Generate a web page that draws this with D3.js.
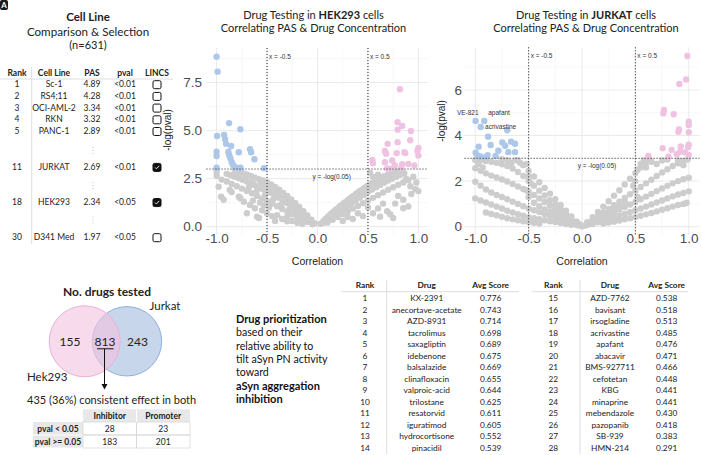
<!DOCTYPE html>
<html>
<head>
<meta charset="utf-8">
<script src="https://cdn.jsdelivr.net/npm/d3@7"></script>
<style>
	body { margin: 0; background: #fff; }
	svg { display: block; font-family: Lato, 'Open Sans', sans-serif; }
</style>
</head>
<body>
<svg id="fig" width="702" height="455"></svg>
<script>
// ---- cell line table ----
const cellRanks = [1, 2, 3, 4, 5, 11, 18, 30];
const cellLines = ['Sc-1', 'RS4;11', 'OCI-AML-2', 'RKN', 'PANC-1', 'JURKAT', 'HEK293', 'D341 Med'];
const cellPAS = ['4.89', '4.28', '3.34', '3.32', '2.89', '2.69', '2.34', '1.97'];
const cellPval = ['<0.01', '<0.01', '<0.01', '<0.01', '<0.01', '<0.01', '<0.05', '<0.05'];
const cellLincs = [false, false, false, false, false, true, true, false];

// ---- venn + consistency table ----
const vennCounts = { hek: 155, both: 813, jurkat: 243 };
const consistRows = ['pval < 0.05', 'pval >= 0.05'];
const consistCols = ['Inhibitor', 'Promoter'];
const consistValues = [[28, 23], [183, 201]];

// ---- drug prioritization ----
const drugNames = ['KX-2391', 'anecortave-acetate', 'AZD-8931', 'tacrolimus', 'saxagliptin', 'idebenone',
	'balsalazide', 'clinafloxacin', 'valproic-acid', 'trilostane', 'resatorvid', 'iguratimod',
	'hydrocortisone', 'pinacidil', 'AZD-7762', 'bavisant', 'irsogladine', 'acrivastine', 'apafant',
	'abacavir', 'BMS-927711', 'cefotetan', 'KBG', 'minaprine', 'mebendazole', 'pazopanib', 'SB-939', 'HMN-214'];
const drugScores = ['0.776', '0.743', '0.714', '0.698', '0.689', '0.675', '0.669', '0.655', '0.644', '0.625',
	'0.611', '0.605', '0.552', '0.539', '0.538', '0.518', '0.513', '0.485', '0.476', '0.471', '0.466',
	'0.448', '0.441', '0.441', '0.430', '0.418', '0.383', '0.291'];

// ---- HEK293 volcano: [correlation, -log(pval)] ----
const hekBlue = [[-1.00,8.85],[-0.99,8.07],[-0.876,5.39],[-0.764,5.07],[-0.995,4.72],[-0.926,4.78],[-0.916,4.55],
	[-0.906,4.31],[-0.856,4.20],[-0.78,3.87],[-0.668,4.03],[-0.658,3.87],[-0.625,3.51],[-1.00,3.90],[-1.00,3.68],
	[-0.883,3.90],[-0.876,3.73],[-0.863,3.56],[-0.85,3.35],[-0.837,3.21],[-0.817,3.11],[-0.764,3.07],[-1.00,3.07],[-0.53,3.04]];
const hekPink = [[0.817,7.15],[0.794,5.44],[0.84,5.24],[0.794,5.05],[0.926,4.98],[0.695,4.31],[0.794,4.40],[0.919,4.50],
	[1.00,4.10],[0.99,3.94],[1.00,3.70],[0.668,3.94],[0.68,3.80],[0.785,3.83],[0.86,3.87],[0.87,3.83],[0.74,3.44],
	[0.668,3.35],[0.84,3.25],[0.90,3.26],[0.96,3.18],[0.543,3.47],[0.55,3.30],[0.765,3.20],[0.83,3.07],[0.72,3.00],[0.69,3.03]];
const hekGrey = [
	[-0.82,2.92],[-0.78,2.85],[-0.74,2.78],[-0.70,2.72],[-0.66,2.64],[-0.62,2.55],[-0.58,2.47],[-0.54,2.40],[-0.50,2.32],
	[-0.46,2.20],[-0.42,2.07],[-0.38,1.93],[-0.34,1.76],[-0.30,1.60],[-0.26,1.42],[-0.22,1.22],[-0.18,1.02],[-0.14,0.80],
	[-0.10,0.58],[-0.06,0.36],[-0.03,0.18],
	[-0.90,2.75],[-0.86,2.68],[-0.82,2.60],[-0.78,2.52],[-0.74,2.44],[-0.70,2.35],[-0.66,2.26],[-0.62,2.16],[-0.58,2.06],
	[-0.54,1.96],[-0.50,1.86],[-0.46,1.75],[-0.42,1.63],[-0.38,1.50],[-0.34,1.37],[-0.30,1.22],[-0.26,1.07],[-0.22,0.91],
	[-0.18,0.75],[-0.14,0.58],[-0.10,0.41],[-0.06,0.25],
	[-0.95,2.45],[-0.90,2.35],[-0.85,2.22],[-0.80,2.10],[-0.75,1.98],[-0.70,1.86],[-0.65,1.74],[-0.60,1.60],[-0.55,1.47],
	[-0.50,1.34],[-0.45,1.20],[-0.40,1.06],[-0.35,0.92],[-0.30,0.78],[-0.25,0.64],[-0.20,0.50],[-0.15,0.37],[-0.10,0.24],[-0.05,0.12],
	[-0.80,2.75],[-0.72,2.50],[-0.64,2.45],[-0.56,2.25],[-0.52,2.15],[-0.48,2.05],[-0.44,1.90],[-0.40,1.80],[-0.36,1.62],
	[-0.32,1.45],[-0.28,1.30],[-0.24,1.12],[-0.20,0.92],[-0.16,0.74],[-0.12,0.55],[-0.08,0.36],[-0.68,2.05],[-0.60,1.90],
	[-0.52,1.65],[-0.44,1.42],[-0.36,1.15],[-0.28,0.90],[-0.20,0.65],[-0.12,0.40],
	[-1.00,2.85],[-1.00,2.65],[-0.98,2.08],[-0.955,1.56],[-0.93,1.40],[-0.87,1.91],[-0.85,1.80],[-0.78,1.56],[-0.765,1.48],
	[-0.73,1.30],[-0.70,0.70],[-0.67,1.13],[-0.62,0.96],[-0.60,0.52],[-0.58,0.45],[-0.55,0.85],[-0.50,0.70],[-0.48,1.00],
	[-0.45,0.55],[-0.40,0.60],[-0.42,0.30],[-0.35,0.40],[-0.30,0.50],[-0.30,0.28],[-0.25,0.30],[-0.20,0.20],[-0.15,0.15],
	[-0.53,1.10],[-0.64,1.35],[-0.57,1.25],
	[0.03,0.15],[0.06,0.30],[0.10,0.50],[0.14,0.70],[0.18,0.88],[0.22,1.05],[0.26,1.22],[0.30,1.38],[0.34,1.54],[0.38,1.70],
	[0.42,1.86],[0.46,2.00],[0.50,2.14],[0.54,2.28],[0.58,2.40],[0.62,2.52],[0.66,2.62],[0.70,2.72],[0.74,2.80],[0.78,2.88],[0.82,2.95],
	[0.06,0.20],[0.10,0.35],[0.14,0.50],[0.18,0.66],[0.22,0.80],[0.26,0.95],[0.30,1.10],[0.34,1.24],[0.38,1.38],[0.42,1.52],
	[0.46,1.66],[0.50,1.80],[0.54,1.93],[0.58,2.05],[0.62,2.17],[0.66,2.28],[0.70,2.40],[0.74,2.50],[0.78,2.60],[0.82,2.70],[0.86,2.78],
	[0.10,0.22],[0.15,0.36],[0.20,0.50],[0.25,0.65],[0.30,0.80],[0.35,0.94],[0.40,1.08],[0.45,1.22],[0.50,1.36],[0.55,1.50],
	[0.60,1.64],[0.65,1.78],[0.70,1.92],[0.75,2.05],[0.80,2.18],[0.85,2.30],[0.90,2.42],
	[0.08,0.40],[0.12,0.60],[0.16,0.78],[0.20,0.95],[0.24,1.12],[0.28,1.28],[0.32,1.45],[0.36,1.60],[0.40,1.75],[0.44,1.90],
	[0.48,2.05],[0.52,2.20],[0.56,2.32],[0.64,2.40],[0.72,2.60],
	[0.98,2.30],[1.00,1.85],[0.97,1.95],[0.93,1.70],[0.85,1.40],[0.77,1.20],[0.85,0.96],[0.69,0.80],[0.62,0.52],[0.72,0.65],
	[0.90,1.05],[0.80,1.60],[0.75,0.45],[0.60,0.95],[0.55,0.70],[0.50,1.00],[0.45,0.55],[0.40,0.70],[0.35,0.40],[0.30,0.50],
	[0.25,0.30],[0.95,2.60],[0.88,2.50],[0.60,2.70],[0.55,2.60],[0.52,2.80],[0.92,2.10],[0.65,1.20]
];

// ---- JURKAT volcano ----
const jurBlue = [[-0.997,4.64],[-0.916,4.64],[-0.95,4.37],[-0.88,3.95],[-0.70,4.23],[-0.968,3.51],[-0.856,3.58],
	[-0.747,3.70],[-0.72,3.55],[-0.784,3.33],[-0.665,3.73],[-0.628,3.64],[-0.997,3.24],[-0.98,3.13],[-0.884,3.14],
	[-0.81,3.10],[-0.69,3.27],[-0.628,3.27],[-0.90,3.05],[-0.95,3.08]];
const jurBlueNames = ['VE-821', 'apafant', 'acrivastine'];
const jurPink = [[0.987,7.49],[0.975,6.46],[0.912,6.26],[0.768,5.12],[0.762,4.97],[0.859,4.93],[1.00,4.61],[1.00,4.46],
	[0.909,4.27],[0.903,4.17],[1.00,4.14],[0.756,3.44],[0.84,3.37],[0.925,3.52],[1.00,3.60],[0.995,3.50],[0.92,3.29],
	[0.888,3.18],[0.621,3.10],[0.81,3.07],[0.965,3.26],[1.00,3.15]];
const jurGrey = [
	[-0.05,0.22],[-0.10,0.45],[-0.15,0.70],[-0.20,0.95],[-0.25,1.20],[-0.30,1.45],[-0.35,1.70],[-0.40,1.95],[-0.45,2.20],
	[-0.50,2.45],[-0.55,2.70],[-0.60,2.90],
	[-0.05,0.18],[-0.10,0.37],[-0.15,0.56],[-0.20,0.76],[-0.25,0.96],[-0.30,1.16],[-0.35,1.37],[-0.40,1.58],[-0.45,1.80],
	[-0.50,2.02],[-0.55,2.22],[-0.60,2.40],[-0.65,2.55],[-0.70,2.66],[-0.75,2.74],[-0.80,2.80],[-0.85,2.85],[-0.90,2.88],
	[-0.95,2.91],[-1.00,2.93],
	[-0.05,0.15],[-0.10,0.30],[-0.15,0.45],[-0.20,0.60],[-0.25,0.76],[-0.30,0.92],[-0.35,1.08],[-0.40,1.24],[-0.45,1.39],
	[-0.50,1.54],[-0.55,1.65],[-0.60,1.76],[-0.65,1.87],[-0.70,1.98],[-0.75,2.07],[-0.80,2.16],[-0.85,2.24],[-0.90,2.34],
	[-0.95,2.45],[-1.00,2.56],
	[-0.05,0.08],[-0.10,0.16],[-0.15,0.24],[-0.20,0.32],[-0.25,0.40],[-0.30,0.48],[-0.35,0.56],[-0.40,0.64],[-0.45,0.72],
	[-0.50,0.80],[-0.55,0.90],[-0.60,1.00],[-0.65,1.10],[-0.70,1.20],[-0.75,1.30],[-0.80,1.39],[-0.85,1.50],[-0.90,1.63],
	[-0.95,1.80],[-1.00,1.97],
	[-0.10,0.08],[-0.15,0.12],[-0.20,0.16],[-0.25,0.20],[-0.30,0.24],[-0.35,0.28],[-0.40,0.33],[-0.45,0.37],[-0.50,0.42],
	[-0.55,0.48],[-0.60,0.55],[-0.65,0.62],[-0.70,0.70],[-0.75,0.80],[-0.80,0.88],[-0.85,0.97],[-0.90,1.06],[-0.95,1.15],[-1.00,1.24],
	[-0.40,0.14],[-0.45,0.17],[-0.50,0.20],[-0.55,0.24],[-0.60,0.28],[-0.65,0.32],[-0.70,0.37],[-0.75,0.43],[-0.80,0.50],
	[-0.85,0.56],[-0.90,0.62],
	[-0.52,2.75],[-0.58,2.80],[-0.62,2.92],[-0.66,2.82],[-0.70,2.92],[-0.75,2.96],[-0.68,2.70],[-0.50,2.20],[-0.48,1.90],
	[-0.50,1.30],[-0.52,1.60],[-0.45,1.05],[-0.40,0.90],[-0.35,0.75],[-0.30,0.65],[-0.25,0.55],[-0.20,0.45],[-0.15,0.32],
	[-0.10,0.22],[-0.05,0.10],[-0.03,0.05],[-0.02,0.10],[0.00,0.02],[-0.97,2.75],[-0.93,2.60],
	[0.05,0.20],[0.10,0.42],[0.15,0.65],[0.20,0.88],[0.25,1.12],[0.30,1.36],[0.35,1.60],[0.40,1.85],[0.45,2.10],[0.50,2.35],
	[0.55,2.60],[0.60,2.82],[0.63,2.95],
	[0.05,0.15],[0.10,0.30],[0.15,0.46],[0.20,0.62],[0.25,0.78],[0.30,0.94],[0.35,1.10],[0.40,1.26],[0.45,1.42],[0.50,1.58],
	[0.55,1.74],[0.60,1.90],[0.65,2.06],[0.70,2.22],[0.75,2.38],[0.80,2.52],[0.85,2.66],[0.90,2.78],[0.95,2.88],[0.99,2.95],
	[0.05,0.10],[0.10,0.20],[0.15,0.31],[0.20,0.42],[0.25,0.53],[0.30,0.64],[0.35,0.75],[0.40,0.86],[0.45,0.97],[0.50,1.08],
	[0.55,1.20],[0.60,1.32],[0.65,1.44],[0.70,1.56],[0.75,1.68],[0.80,1.79],[0.85,1.90],[0.90,2.00],[0.95,2.08],[1.00,2.15],
	[0.10,0.12],[0.15,0.19],[0.20,0.26],[0.25,0.33],[0.30,0.40],[0.35,0.48],[0.40,0.56],[0.45,0.64],[0.50,0.72],[0.55,0.80],
	[0.60,0.88],[0.65,0.97],[0.70,1.06],[0.75,1.15],[0.80,1.24],[0.85,1.33],[0.90,1.41],[0.95,1.48],[1.00,1.55],
	[0.20,0.14],[0.25,0.18],[0.30,0.22],[0.35,0.27],[0.40,0.32],[0.45,0.37],[0.50,0.42],[0.55,0.48],[0.60,0.54],[0.65,0.60],
	[0.70,0.67],[0.75,0.74],[0.80,0.81],[0.85,0.88],[0.90,0.95],[0.95,1.00],[0.98,1.05],
	[0.55,2.75],[0.60,2.60],[0.65,2.85],[0.70,2.75],[0.75,2.90],[0.80,2.95],[0.58,2.90],[0.52,2.50],[0.50,2.00],[0.48,1.80],
	[0.52,1.30],[0.40,1.10],[0.35,0.90],[0.30,0.80],[0.25,0.60],[0.20,0.50],[0.15,0.40],[0.10,0.25],[0.05,0.08],[0.03,0.05],
	[0.90,2.90],[0.95,2.70]
];

const svg = d3.select('#fig');

// ---------- panel badge ----------
svg.append('rect').attr('x', 0).attr('y', 0).attr('width', 8).attr('height', 10).attr('rx', 2).attr('fill', '#1a1a1a');
svg.append('text').attr('x', 4).attr('y', 8).attr('text-anchor', 'middle').attr('font-size', 8)
	.attr('font-weight', 700).attr('fill', '#fff').text('A');

// ---------- cell line table ----------
function drawCellTable() {
	const g = svg.append('g').attr('font-size', 8.5).attr('fill', '#222');
	const titles = [['Cell Line', 20.7, 700, 11.5], ['Comparison & Selection', 35.5, 400, 11.6], ['(n=631)', 48.5, 400, 11]];
	titles.forEach(([t, y, w, fs]) => {
		g.append('text').attr('x', 88).attr('y', y).attr('text-anchor', 'middle')
			.attr('font-size', fs).attr('font-weight', w).text(t);
	});

	const colX = [17, 54, 92, 125, 157];
	const heads = ['Rank', 'Cell Line', 'PAS', 'pval', 'LINCS'];
	g.selectAll('.hd').data(heads).join('text')
		.attr('x', (d, i) => colX[i]).attr('y', 76).attr('text-anchor', 'middle')
		.attr('font-weight', 700).text((d) => d);

	g.append('line').attr('x1', 0).attr('x2', 173).attr('y1', 79).attr('y2', 79).attr('stroke', '#ddd');
	g.append('line').attr('x1', 31.7).attr('x2', 31.7).attr('y1', 67).attr('y2', 244).attr('stroke', '#ddd');

	const rowY = (i) => (i < 5 ? 87.3 + i * 11.7 : 170 + (i - 5) * 35.15);
	const rows = g.selectAll('.row').data(cellRanks).join('g').attr('transform', (d, i) => `translate(0,${rowY(i)})`);
	rows.append('text').attr('x', colX[0]).attr('text-anchor', 'middle').text((d) => d);
	rows.append('text').attr('x', colX[1]).attr('text-anchor', 'middle').text((d, i) => cellLines[i]);
	rows.append('text').attr('x', colX[2]).attr('text-anchor', 'middle').text((d, i) => cellPAS[i]);
	rows.append('text').attr('x', colX[3]).attr('text-anchor', 'middle').text((d, i) => cellPval[i]);
	rows.append('rect').attr('x', colX[4] - 4).attr('y', -6.6).attr('width', 8).attr('height', 8).attr('rx', 1.5)
		.attr('fill', (d, i) => (cellLincs[i] ? '#111' : '#fff')).attr('stroke', '#111').attr('stroke-width', 1);
	rows.filter((d, i) => cellLincs[i]).append('path')
		.attr('d', `M${colX[4] - 2},-2.6 L${colX[4] - 0.6},-1.2 L${colX[4] + 2.2},-4.2`)
		.attr('fill', 'none').attr('stroke', '#fff').attr('stroke-width', 0.9);

	// vertical ellipsis between gaps
	[150.5, 185.5, 220].forEach((cy) => {
		[-3, 0, 3].forEach((o) => {
			g.append('circle').attr('cx', 93).attr('cy', cy + o).attr('r', 0.6).attr('fill', '#bbb');
		});
	});
}
drawCellTable();

// ---------- volcano plots ----------
function drawVolcano(cfg) {
	const g = svg.append('g');
	const x = d3.scaleLinear().domain([-1.1, 1.1]).range(cfg.xRange);
	const y = d3.scaleLinear().domain(cfg.yDomain).range(cfg.yRange);
	const [left, right] = cfg.xRange;
	const [bottom, top] = cfg.yRange;

	// grid
	const grid = g.append('g');
	grid.selectAll('.xm').data([-0.75, -0.25, 0.25, 0.75]).join('line')
		.attr('x1', x).attr('x2', x).attr('y1', top).attr('y2', bottom).attr('stroke', '#f3f3f3').attr('stroke-width', 0.6);
	grid.selectAll('.ym').data(cfg.yMinor).join('line')
		.attr('x1', left).attr('x2', right).attr('y1', y).attr('y2', y).attr('stroke', '#f3f3f3').attr('stroke-width', 0.6);
	grid.selectAll('.xM').data([-1, -0.5, 0, 0.5, 1]).join('line')
		.attr('x1', x).attr('x2', x).attr('y1', top).attr('y2', bottom).attr('stroke', '#e8e8e8').attr('stroke-width', 0.9);
	grid.selectAll('.yM').data(cfg.yTicks).join('line')
		.attr('x1', left).attr('x2', right).attr('y1', y).attr('y2', y).attr('stroke', '#e8e8e8').attr('stroke-width', 0.9);

	// points
	const pts = g.append('g');
	const drawPts = (data, color) => {
		pts.append('g').selectAll('circle').data(data).join('circle')
			.attr('cx', (d) => x(d[0])).attr('cy', (d) => y(d[1])).attr('r', 3.2).attr('fill', color);
	};
	drawPts(cfg.grey, '#cdcdcd');
	drawPts(cfg.blue, '#adc7e9');
	drawPts(cfg.pink, '#f0c2e2');

	// reference lines
	const dots = g.append('g').attr('stroke', '#222').attr('stroke-width', 1).attr('stroke-dasharray', '1,2');
	[-0.5, 0.5].forEach((v) => {
		dots.append('line').attr('x1', x(v)).attr('x2', x(v)).attr('y1', top).attr('y2', bottom);
	});
	dots.append('line').attr('x1', left).attr('x2', right).attr('y1', y(3)).attr('y2', y(3));

	const ann = g.append('g').attr('font-size', 6.5).attr('fill', '#333').attr('font-family', 'Liberation Sans, Arial, sans-serif');
	ann.append('text').attr('x', x(-0.5) + 2).attr('y', top + 11).text('x = -0.5');
	ann.append('text').attr('x', x(0.5) + 2).attr('y', top + 11).text('x = 0.5');
	ann.append('text').attr('x', x(0.14)).attr('y', y(3) + 9.5).attr('text-anchor', 'middle').text('y = -log(0.05)');

	// axes
	const fmt = (d) => d.toFixed(cfg.yDigits);
	g.append('g').attr('transform', `translate(0,${cfg.xLabelY})`)
		.call(d3.axisBottom(x).tickValues([-1, -0.5, 0, 0.5, 1]).tickFormat((d) => d.toFixed(1)).tickSize(0).tickPadding(0))
		.call((a) => a.select('.domain').remove())
		.selectAll('text').attr('font-size', 13.5).attr('fill', '#4d4d4d').attr('font-family', 'Liberation Sans, Arial, sans-serif');
	g.append('g').attr('transform', `translate(${cfg.yLabelX},0)`)
		.call(d3.axisLeft(y).tickValues(cfg.yTicks).tickFormat(fmt).tickSize(0).tickPadding(0))
		.call((a) => a.select('.domain').remove())
		.selectAll('text').attr('font-size', 13.5).attr('fill', '#4d4d4d').attr('font-family', 'Liberation Sans, Arial, sans-serif');

	g.append('text').attr('x', x(0)).attr('y', 265).attr('text-anchor', 'middle').attr('font-size', 10.5)
		.attr('fill', '#222').attr('font-family', 'Liberation Sans, Arial, sans-serif').text('Correlation');
	g.append('text').attr('transform', `translate(${cfg.yTitleX},${cfg.yTitleY}) rotate(-90)`)
		.attr('text-anchor', 'middle').attr('dy', '0.35em').attr('font-size', 10).attr('fill', '#222')
		.attr('font-family', 'Liberation Sans, Arial, sans-serif').text('-log(pval)');

	// title
	const t1 = g.append('text').attr('x', cfg.titleX).attr('y', 19).attr('text-anchor', 'middle').attr('font-size', 11).attr('fill', '#222');
	t1.append('tspan').text('Drug Testing in ');
	t1.append('tspan').attr('font-weight', 700).text(cfg.cell);
	t1.append('tspan').text(' cells');
	g.append('text').attr('x', cfg.titleX).attr('y', 32).attr('text-anchor', 'middle').attr('font-size', 11)
		.attr('fill', '#222').text('Correlating PAS & Drug Concentration');

	return { g, x, y };
}

drawVolcano({
	cell: 'HEK293', xRange: [206.5, 428.5], yDomain: [-0.45, 9.3], yRange: [235.3, 48],
	yTicks: [0, 2.5, 5, 7.5], yMinor: [1.25, 3.75, 6.25, 8.75], yDigits: 1,
	grey: hekGrey, blue: hekBlue, pink: hekPink,
	xLabelY: 233, yLabelX: 202, yTitleX: 167, yTitleY: 130, titleX: 313.5
});

const jur = drawVolcano({
	cell: 'JURKAT', xRange: [464.6, 699.4], yDomain: [-0.37, 7.87], yRange: [235.1, 47.3],
	yTicks: [0, 2, 4, 6], yMinor: [1, 3, 5, 7], yDigits: 0,
	grey: jurGrey, blue: jurBlue, pink: jurPink,
	xLabelY: 233, yLabelX: 462, yTitleX: 441, yTitleY: 121, titleX: 586
});

// repelled labels for named Jurkat drugs
const labelOffsets = [[3, -6, 'end'], [4, -6, 'start'], [4.5, 1.5, 'start']];
jurBlueNames.forEach((name, i) => {
	const p = jurBlue[i];
	jur.g.append('text').attr('x', jur.x(p[0]) + labelOffsets[i][0]).attr('y', jur.y(p[1]) + labelOffsets[i][1])
		.attr('text-anchor', labelOffsets[i][2]).attr('font-size', 6.5).attr('fill', '#333')
		.attr('font-family', 'Liberation Sans, Arial, sans-serif').text(name);
});

// ---------- venn ----------
function drawVenn() {
	const g = svg.append('g').attr('fill', '#222');
	g.append('text').attr('x', 107).attr('y', 296).attr('text-anchor', 'middle').attr('font-size', 12)
		.attr('font-weight', 700).text('No. drugs tested');
	g.append('circle').attr('cx', 127).attr('cy', 341.3).attr('r', 34.7).attr('fill', '#c8d6ec').attr('stroke', '#8fb0dc').attr('stroke-width', 1);
	g.append('circle').attr('cx', 84.7).attr('cy', 341.3).attr('r', 35.5).attr('fill', '#f2c4e1').attr('fill-opacity', 0.62)
		.attr('stroke', '#ebb0d7').attr('stroke-width', 1);
	const nums = [[70, vennCounts.hek], [105, vennCounts.both], [137.5, vennCounts.jurkat]];
	nums.forEach(([cx, v]) => {
		g.append('text').attr('x', cx).attr('y', 345.5).attr('text-anchor', 'middle').attr('font-size', 12).text(v);
	});
	g.append('text').attr('x', 165).attr('y', 310).attr('text-anchor', 'middle').attr('font-size', 11.5).text('Jurkat');
	g.append('text').attr('x', 27).attr('y', 380.7).attr('font-size', 11.5).text('Hek293');

	// arrow from overlap
	g.append('line').attr('x1', 97).attr('x2', 113.5).attr('y1', 348.8).attr('y2', 348.8).attr('stroke', '#111');
	g.append('line').attr('x1', 104.5).attr('x2', 104.5).attr('y1', 348.8).attr('y2', 385).attr('stroke', '#111');
	g.append('path').attr('d', 'M101.5,384 L107.5,384 L104.5,389.5 Z').attr('fill', '#111');

	g.append('text').attr('x', 27).attr('y', 404).attr('font-size', 11).text('435 (36%) consistent effect in both');

	// consistency table
	const tx = [33, 83, 136.5, 190];
	const ty = [409.3, 422, 435, 448];
	const t = g.append('g').attr('font-size', 8.5);
	t.append('rect').attr('x', tx[1]).attr('y', ty[0]).attr('width', tx[3] - tx[1]).attr('height', ty[1] - ty[0]).attr('fill', '#e8e8e8');
	t.append('rect').attr('x', tx[0]).attr('y', ty[1]).attr('width', tx[1] - tx[0]).attr('height', ty[3] - ty[1]).attr('fill', '#e8e8e8');
	// cell borders
	for (let r = 0; r < 2; r++) {
		for (let c = 0; c < 2; c++) {
			t.append('rect').attr('x', tx[c + 1]).attr('y', ty[r + 1]).attr('width', tx[c + 2] - tx[c + 1])
				.attr('height', ty[r + 2] - ty[r + 1]).attr('fill', 'none').attr('stroke', '#d4d4d4').attr('stroke-width', 0.7);
		}
		t.append('line').attr('x1', tx[0]).attr('x2', tx[1]).attr('y1', ty[r + 2]).attr('y2', ty[r + 2])
			.attr('stroke', '#fff').attr('stroke-width', 1);
	}
	t.append('line').attr('x1', tx[2]).attr('x2', tx[2]).attr('y1', ty[0]).attr('y2', ty[1]).attr('stroke', '#fff');
	consistCols.forEach((c, i) => {
		t.append('text').attr('x', (tx[i + 1] + tx[i + 2]) / 2).attr('y', ty[0] + 9.3).attr('text-anchor', 'middle')
			.attr('font-weight', 700).text(c);
	});
	consistRows.forEach((rname, r) => {
		t.append('text').attr('x', (tx[0] + tx[1]) / 2).attr('y', ty[r + 1] + 9.5).attr('text-anchor', 'middle')
			.attr('font-weight', 700).text(rname);
		consistValues[r].forEach((v, c) => {
			t.append('text').attr('x', (tx[c + 1] + tx[c + 2]) / 2).attr('y', ty[r + 1] + 9.5).attr('text-anchor', 'middle').text(v);
		});
	});
}
drawVenn();

// ---------- drug prioritization ----------
const blurb = [['Drug prioritization', 700], ['based on their', 400], ['relative ability to', 400],
	['tilt aSyn PN activity', 400], ['toward', 400], ['aSyn aggregation', 700], ['inhibition', 700]];
svg.append('g').selectAll('text').data(blurb).join('text')
	.attr('x', 236).attr('y', (d, i) => 322.7 + i * 13.43).attr('font-size', (d) => (d[1] === 700 ? 11 : 10.6))
	.attr('font-weight', (d) => d[1]).attr('fill', '#111').text((d) => d[0]);

function drawDrugTable(offset, cols, lineX, divX) {
	const g = svg.append('g').attr('font-size', 8.3).attr('fill', '#222');
	const heads = ['Rank', 'Drug', 'Avg Score'];
	heads.forEach((h, i) => {
		g.append('text').attr('x', cols[i]).attr('y', 288.3).attr('text-anchor', 'middle').attr('font-weight', 700).text(h);
	});
	g.append('line').attr('x1', lineX[0]).attr('x2', lineX[1]).attr('y1', 291.7).attr('y2', 291.7).attr('stroke', '#ddd');
	g.append('line').attr('x1', divX).attr('x2', divX).attr('y1', 280).attr('y2', 454).attr('stroke', '#ddd');
	const idx = d3.range(offset, offset + 14);
	const rows = g.selectAll('.r').data(idx).join('g').attr('transform', (d, i) => `translate(0,${301 + i * 11.54})`);
	rows.append('text').attr('x', cols[0]).attr('text-anchor', 'middle').text((d) => d + 1);
	rows.append('text').attr('x', cols[1]).attr('text-anchor', 'middle').text((d) => drugNames[d]);
	rows.append('text').attr('x', cols[2]).attr('text-anchor', 'middle').text((d) => drugScores[d]);
}
drawDrugTable(0, [365, 426.7, 490.7], [341.7, 519], 386.7);
drawDrugTable(14, [553.3, 610, 666.7], [531.7, 688], 580);
</script>
</body>
</html>
